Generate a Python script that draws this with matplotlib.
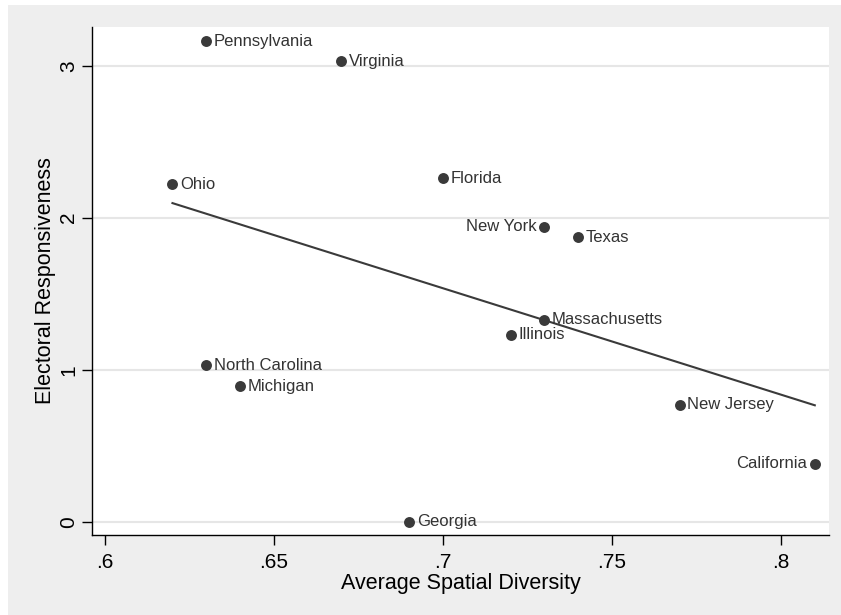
import numpy as np
import matplotlib
matplotlib.use('Agg')
from matplotlib import pyplot as plt
from matplotlib.patches import Rectangle

plt.rcParams['font.family'] = ['Liberation Sans', 'DejaVu Sans']

# states with average spatial diversity and electoral responsiveness
states = ['Pennsylvania', 'Virginia', 'Ohio', 'Florida', 'New York', 'Texas',
          'Massachusetts', 'Illinois', 'North Carolina', 'Michigan',
          'New Jersey', 'California', 'Georgia']
diversity = [0.63, 0.67, 0.62, 0.70, 0.73, 0.74, 0.73, 0.72, 0.63, 0.64,
             0.77, 0.81, 0.69]
responsiveness = [3.16, 3.03, 2.22, 2.26, 1.94, 1.87, 1.33, 1.23, 1.03,
                  0.89, 0.77, 0.38, 0.0]
# labels drawn to the left of the marker
left_labels = ['New York', 'California']

xticks = [0.6, 0.65, 0.7, 0.75, 0.8]
xticklabels = ['.6', '.65', '.7', '.75', '.8']
yticks = [0, 1, 2, 3]

dark = '#3a3a3a'
bg = '#eeeeee'

fig = plt.figure(figsize=(8.41, 6.15), dpi=100, facecolor='white')
# gray background panel (thin white margin top and left)
fig.patches.append(Rectangle((8 / 841, 0), 1, 1 - 5 / 615, transform=fig.transFigure,
                             facecolor=bg, edgecolor='none', zorder=-10))

ax = fig.add_axes([92 / 841, 1 - 535 / 615, (829 - 92) / 841, (535 - 27) / 615])
ax.set_facecolor('white')

x = np.array(diversity)
y = np.array(responsiveness)

# linear fit
slope, intercept = np.polyfit(x, y, 1)
xf = np.array([x.min(), x.max()])
ax.plot(xf, intercept + slope * xf, color=dark, lw=1.5, zorder=3)

ax.scatter(x, y, s=62, color=dark, zorder=4, linewidths=0)
for name, xi, yi in zip(states, x, y):
    if name in left_labels:
        ax.annotate(name, (xi, yi), xytext=(-5.5, 0), textcoords='offset points',
                    ha='right', va='center', fontsize=12, color='#333333', zorder=5)
    else:
        ax.annotate(name, (xi, yi), xytext=(5.5, 0), textcoords='offset points',
                    ha='left', va='center', fontsize=12, color='#333333', zorder=5)

ax.set_xlim(0.5962, 0.8142)
ax.set_ylim(-0.0875, 3.255)
ax.set_xticks(xticks)
ax.set_xticklabels(xticklabels)
ax.set_yticks(yticks)
ax.set_yticklabels([str(t) for t in yticks], rotation=90, va='center')

ax.grid(axis='y', color='#e6e6e6', lw=1.5)
ax.set_axisbelow(True)
for s in ['top', 'right']:
    ax.spines[s].set_visible(False)
for s in ['left', 'bottom']:
    ax.spines[s].set_color('black')
    ax.spines[s].set_linewidth(1.0)

ax.tick_params(axis='both', direction='out', length=7, width=1, labelsize=15,
               colors='black')
ax.tick_params(axis='x', pad=6)
ax.tick_params(axis='y', pad=3)

ax.set_xlabel('Average Spatial Diversity', fontsize=15.5, labelpad=1)
ax.set_ylabel('Electoral Responsiveness', fontsize=15.5, labelpad=2)

fig.savefig('out.png', dpi=100, facecolor=fig.get_facecolor())
